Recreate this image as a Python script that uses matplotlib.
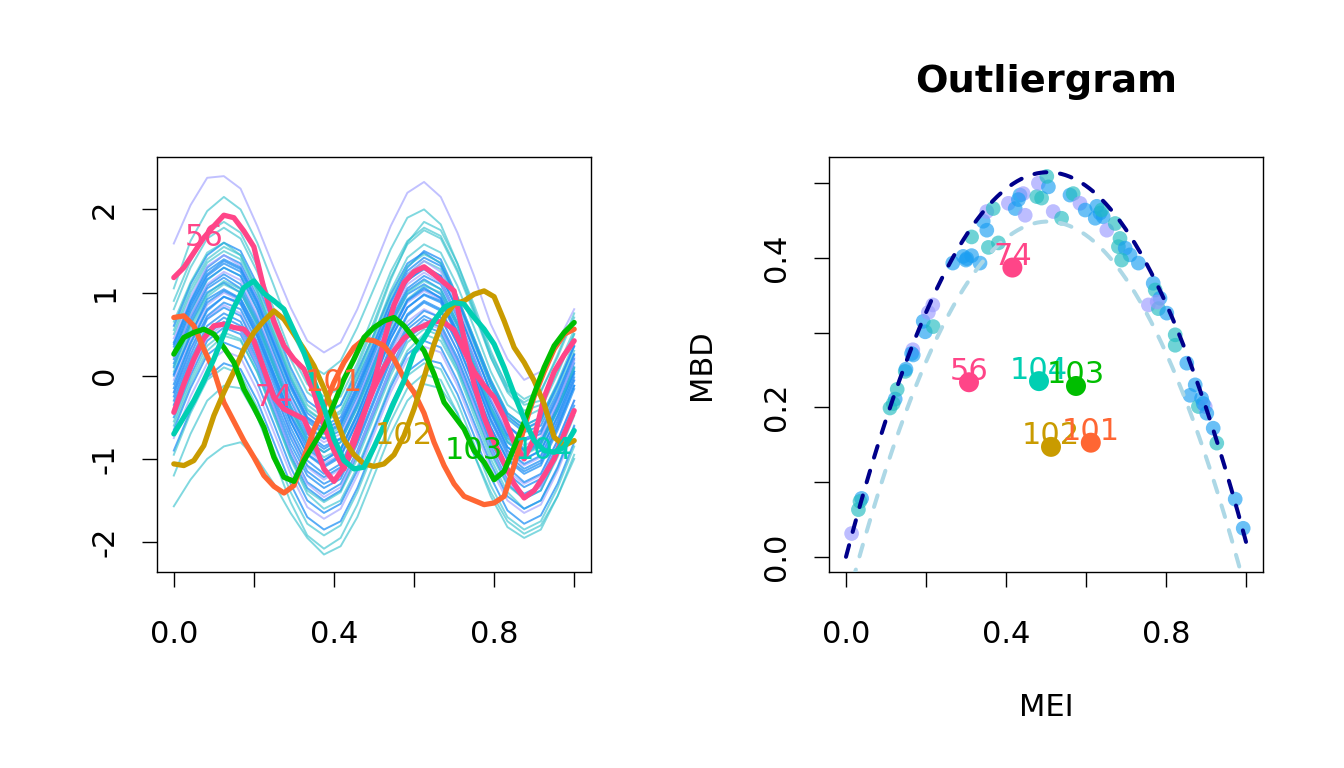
import numpy as np
import matplotlib
matplotlib.use("Agg")
import matplotlib.pyplot as plt

plt.rcParams['font.family'] = 'DejaVu Sans'
plt.rcParams['axes.unicode_minus'] = False

# ---------------- left panel: functional data ----------------
grid_bg = np.arange(25) / 24     # background curves, 25 samples
grid_out = np.arange(41) / 40    # outlying curves, 41 samples

bg_curves = [
    [1.59, 2.05, 2.38, 2.40, 2.25, 1.80, 1.30, 0.82, 0.42, 0.28, 0.40, 0.80, 1.30, 1.80, 2.20, 2.33, 2.15, 1.72, 1.20, 0.62, 0.20, -0.05, 0.05, 0.40, 0.80],
    [1.05, 1.62, 1.98, 2.15, 2.00, 1.60, 1.08, 0.55, 0.15, 0.02, 0.18, 0.58, 1.05, 1.52, 1.90, 2.00, 1.82, 1.35, 0.80, 0.22, -0.20, -0.42, -0.35, 0.05, 0.50],
    [-1.57, -1.25, -1.00, -0.85, -0.80, -1.00, -1.30, -1.65, -1.95, -2.15, -2.05, -1.70, -1.20, -0.70, -0.30, -0.10, -0.15, -0.45, -0.95, -1.40, -1.75, -1.90, -1.80, -1.45, -1.00],
    [0.55, 1.05, 1.40, 1.55, 1.45, 1.05, 0.55, 0.05, -0.35, -0.50, -0.35, 0.10, 0.60, 1.15, 1.60, 1.85, 1.75, 1.35, 0.85, 0.30, -0.15, -0.35, -0.30, 0.10, 0.55],
    [0.40, 0.90, 1.30, 1.45, 1.35, 0.95, 0.45, -0.05, -0.45, -0.60, -0.50, -0.05, 0.40, 0.90, 1.30, 1.50, 1.40, 0.95, 0.45, -0.05, -0.45, -0.60, -0.50, -0.10, 0.35],
    [0.10, 0.62, 1.00, 1.12, 1.00, 0.62, 0.10, -0.40, -0.78, -0.92, -0.80, -0.38, 0.10, 0.60, 0.98, 1.10, 0.98, 0.60, 0.08, -0.42, -0.80, -0.95, -0.82, -0.40, 0.05],
    [-0.20, 0.30, 0.70, 0.85, 0.75, 0.35, -0.15, -0.70, -1.10, -1.25, -1.12, -0.70, -0.20, 0.28, 0.65, 0.80, 0.70, 0.30, -0.22, -0.75, -1.15, -1.30, -1.20, -0.78, -0.30],
    [-0.60, -0.10, 0.30, 0.48, 0.42, 0.05, -0.48, -1.00, -1.42, -1.60, -1.50, -1.10, -0.62, -0.10, 0.30, 0.50, 0.42, 0.05, -0.48, -1.00, -1.40, -1.60, -1.50, -1.12, -0.62],
    [-0.90, -0.42, -0.02, 0.15, 0.08, -0.30, -0.80, -1.30, -1.70, -1.85, -1.75, -1.35, -0.85, -0.35, 0.05, 0.20, 0.15, -0.22, -0.72, -1.22, -1.62, -1.78, -1.68, -1.30, -0.80],
    [0.60, 1.10, 1.45, 1.60, 1.50, 1.10, 0.62, 0.10, -0.30, -0.45, -0.35, 0.05, 0.50, 0.98, 1.35, 1.48, 1.35, 0.92, 0.40, -0.12, -0.52, -0.68, -0.60, -0.20, 0.25],
    [0.25, 0.75, 1.15, 1.30, 1.20, 0.80, 0.30, -0.22, -0.60, -0.75, -0.62, -0.20, 0.30, 0.82, 1.22, 1.38, 1.28, 0.88, 0.38, -0.12, -0.50, -0.65, -0.55, -0.15, 0.30],
    [-0.05, 0.45, 0.85, 1.00, 0.90, 0.50, 0.00, -0.50, -0.90, -1.05, -0.95, -0.52, -0.02, 0.50, 0.88, 1.02, 0.92, 0.50, 0.00, -0.52, -0.92, -1.08, -0.98, -0.55, -0.05],
    [-0.40, 0.10, 0.50, 0.65, 0.55, 0.15, -0.35, -0.88, -1.28, -1.42, -1.30, -0.90, -0.40, 0.10, 0.50, 0.68, 0.58, 0.18, -0.32, -0.85, -1.25, -1.42, -1.32, -0.92, -0.45],
    [0.80, 1.30, 1.65, 1.78, 1.65, 1.25, 0.72, 0.20, -0.20, -0.35, -0.25, 0.15, 0.65, 1.18, 1.58, 1.75, 1.65, 1.25, 0.75, 0.22, -0.18, -0.32, -0.20, 0.25, 0.75],
    [-0.15, 0.38, 0.78, 0.95, 0.88, 0.48, -0.02, -0.55, -0.95, -1.10, -0.98, -0.55, -0.05, 0.45, 0.82, 0.98, 0.90, 0.50, -0.02, -0.55, -0.95, -1.12, -1.02, -0.60, -0.12],
    [0.20, 0.70, 1.08, 1.22, 1.10, 0.70, 0.20, -0.30, -0.70, -0.85, -0.75, -0.32, 0.18, 0.68, 1.05, 1.20, 1.10, 0.70, 0.20, -0.30, -0.70, -0.88, -0.78, -0.35, 0.15],
    [-1.20, -0.70, -0.30, -0.12, -0.15, -0.50, -1.00, -1.52, -1.92, -2.08, -1.95, -1.55, -1.05, -0.55, -0.15, 0.02, -0.05, -0.45, -0.95, -1.45, -1.82, -1.95, -1.85, -1.45, -0.95],
    [0.45, 0.95, 1.32, 1.45, 1.32, 0.92, 0.40, -0.10, -0.50, -0.65, -0.55, -0.12, 0.35, 0.85, 1.22, 1.38, 1.25, 0.85, 0.32, -0.20, -0.60, -0.78, -0.68, -0.25, 0.22],
    [-0.50, 0.00, 0.42, 0.58, 0.50, 0.10, -0.42, -0.95, -1.35, -1.50, -1.38, -0.95, -0.45, 0.05, 0.45, 0.60, 0.52, 0.12, -0.40, -0.90, -1.30, -1.48, -1.38, -0.95, -0.45],
    [0.05, 0.55, 0.95, 1.10, 1.00, 0.60, 0.10, -0.42, -0.82, -0.98, -0.88, -0.45, 0.05, 0.55, 0.92, 1.08, 1.00, 0.60, 0.10, -0.40, -0.80, -0.95, -0.85, -0.42, 0.08],
    [0.30, 0.82, 1.20, 1.35, 1.25, 0.85, 0.35, -0.15, -0.55, -0.70, -0.60, -0.18, 0.32, 0.80, 1.18, 1.32, 1.20, 0.80, 0.30, -0.20, -0.60, -0.78, -0.70, -0.28, 0.20],
    [-0.75, -0.25, 0.15, 0.30, 0.22, -0.18, -0.68, -1.18, -1.58, -1.72, -1.60, -1.20, -0.70, -0.20, 0.20, 0.35, 0.28, -0.12, -0.62, -1.12, -1.50, -1.65, -1.55, -1.15, -0.65],
    [0.65, 1.12, 1.48, 1.60, 1.45, 1.02, 0.50, -0.02, -0.42, -0.55, -0.42, 0.02, 0.50, 1.02, 1.42, 1.58, 1.48, 1.08, 0.58, 0.05, -0.35, -0.50, -0.40, 0.02, 0.50],
    [-0.30, 0.20, 0.60, 0.75, 0.65, 0.25, -0.25, -0.75, -1.15, -1.30, -1.20, -0.78, -0.28, 0.22, 0.60, 0.78, 0.70, 0.30, -0.20, -0.72, -1.10, -1.28, -1.18, -0.78, -0.30],
    [0.02, 0.48, 0.92, 1.04, 0.93, 0.56, 0.03, -0.47, -0.83, -1.02, -0.88, -0.46, 0.04, 0.50, 0.91, 1.06, 0.93, 0.52, 0.06, -0.44, -0.86, -1.01, -0.90, -0.50, -0.02],
    [-0.95, -0.45, -0.05, 0.10, 0.02, -0.38, -0.90, -1.40, -1.78, -1.92, -1.80, -1.40, -0.90, -0.40, 0.00, 0.15, 0.08, -0.32, -0.82, -1.32, -1.70, -1.85, -1.75, -1.35, -0.85],
    [0.35, 0.85, 1.22, 1.38, 1.28, 0.88, 0.38, -0.12, -0.52, -0.68, -0.58, -0.15, 0.32, 0.80, 1.15, 1.28, 1.15, 0.72, 0.22, -0.30, -0.72, -0.90, -0.82, -0.42, 0.05],
    [-0.25, 0.25, 0.68, 0.82, 0.72, 0.32, -0.18, -0.68, -1.08, -1.22, -1.10, -0.68, -0.18, 0.32, 0.72, 0.88, 0.78, 0.38, -0.12, -0.62, -1.00, -1.15, -1.05, -0.62, -0.12],
    [0.15, 0.66, 1.05, 1.18, 1.05, 0.66, 0.15, -0.36, -0.74, -0.88, -0.76, -0.35, 0.14, 0.64, 1.02, 1.16, 1.04, 0.64, 0.14, -0.36, -0.75, -0.90, -0.80, -0.38, 0.10],
    [-0.10, 0.40, 0.80, 0.95, 0.86, 0.46, -0.05, -0.55, -0.94, -1.08, -0.96, -0.55, -0.06, 0.44, 0.82, 0.97, 0.88, 0.48, -0.02, -0.52, -0.90, -1.06, -0.96, -0.55, -0.06],
    [0.50, 1.00, 1.36, 1.50, 1.40, 1.00, 0.50, 0.00, -0.40, -0.55, -0.45, -0.02, 0.46, 0.95, 1.32, 1.46, 1.36, 0.95, 0.45, -0.05, -0.45, -0.60, -0.50, -0.08, 0.40],
    [-0.35, 0.15, 0.55, 0.70, 0.60, 0.20, -0.30, -0.82, -1.20, -1.35, -1.24, -0.82, -0.32, 0.18, 0.56, 0.72, 0.62, 0.22, -0.28, -0.80, -1.18, -1.34, -1.24, -0.84, -0.36],
    [0.22, 0.72, 1.10, 1.25, 1.15, 0.74, 0.24, -0.27, -0.66, -0.80, -0.70, -0.28, 0.22, 0.72, 1.10, 1.24, 1.12, 0.72, 0.22, -0.28, -0.68, -0.84, -0.74, -0.32, 0.18],
    [0.00, 0.50, 0.88, 1.02, 0.92, 0.52, 0.02, -0.48, -0.88, -1.02, -0.90, -0.48, 0.02, 0.52, 0.90, 1.04, 0.94, 0.54, 0.04, -0.46, -0.86, -1.00, -0.90, -0.48, 0.02],
    [-0.55, -0.05, 0.36, 0.52, 0.44, 0.04, -0.46, -0.98, -1.38, -1.52, -1.40, -1.00, -0.50, 0.00, 0.40, 0.56, 0.48, 0.08, -0.42, -0.94, -1.32, -1.48, -1.38, -0.98, -0.48],
    [0.38, 0.88, 1.26, 1.40, 1.30, 0.90, 0.40, -0.10, -0.50, -0.64, -0.54, -0.12, 0.38, 0.88, 1.26, 1.42, 1.32, 0.92, 0.42, -0.08, -0.48, -0.64, -0.54, -0.12, 0.36],
    [-0.20, 0.32, 0.72, 0.88, 0.80, 0.40, -0.10, -0.62, -1.02, -1.18, -1.06, -0.64, -0.14, 0.36, 0.74, 0.90, 0.80, 0.40, -0.10, -0.62, -1.02, -1.18, -1.08, -0.66, -0.16],
    [0.12, 0.60, 0.98, 1.14, 1.04, 0.64, 0.14, -0.38, -0.78, -0.92, -0.80, -0.38, 0.12, 0.62, 1.00, 1.14, 1.04, 0.64, 0.14, -0.38, -0.78, -0.92, -0.82, -0.40, 0.10],
    [-0.45, 0.05, 0.46, 0.62, 0.54, 0.14, -0.38, -0.90, -1.30, -1.46, -1.34, -0.92, -0.42, 0.08, 0.48, 0.64, 0.56, 0.16, -0.36, -0.88, -1.28, -1.44, -1.34, -0.92, -0.42],
    [0.28, 0.78, 1.16, 1.30, 1.20, 0.80, 0.28, -0.22, -0.62, -0.76, -0.66, -0.24, 0.26, 0.76, 1.14, 1.30, 1.20, 0.80, 0.30, -0.20, -0.60, -0.76, -0.66, -0.24, 0.26],
    [0.90, 1.38, 1.72, 1.85, 1.72, 1.32, 0.80, 0.28, -0.10, -0.25, -0.15, 0.25, 0.75, 1.25, 1.62, 1.78, 1.68, 1.28, 0.78, 0.26, -0.12, -0.28, -0.18, 0.22, 0.70],
    [-0.65, -0.15, 0.25, 0.40, 0.32, -0.08, -0.58, -1.10, -1.50, -1.65, -1.54, -1.14, -0.64, -0.14, 0.26, 0.42, 0.34, -0.06, -0.56, -1.06, -1.45, -1.60, -1.50, -1.10, -0.60],
]
bg_groups = ['L', 'T', 'T', 'T', 'B', 'B', 'L', 'T', 'B', 'B', 'T', 'L', 'B', 'T',
             'B', 'B', 'T', 'L', 'B', 'T', 'B', 'L', 'T', 'B', 'B', 'T', 'B', 'B',
             'B', 'B', 'T', 'B', 'L', 'B', 'T', 'B', 'B', 'T', 'L', 'B', 'T', 'B']

curve_56 = [1.18, 1.30, 1.48, 1.66, 1.80, 1.93, 1.90, 1.74, 1.55, 1.05,
            0.65, 0.36, 0.20, 0.08, -0.20, -0.60, -0.90, -1.12, -0.82, -0.46,
            -0.10, 0.42, 0.85, 1.12, 1.25, 1.31, 1.22, 1.12, 1.02, 0.45,
            -0.10, -0.50, -0.80, -1.05, -1.30, -1.47, -1.38, -1.20, -1.00, -0.70,
            -0.42]
curve_74 = [-0.44, -0.10, 0.20, 0.45, 0.60, 0.62, 0.58, 0.56, 0.42, 0.08,
            -0.26, -0.40, -0.46, -0.52, -0.80, -1.12, -1.27, -1.10, -0.75, -0.45,
            -0.15, 0.10, 0.30, 0.45, 0.55, 0.60, 0.66, 0.64, 0.55, 0.30,
            0.05, -0.12, -0.26, -0.50, -0.80, -1.00, -0.75, -0.26, 0.05, 0.25,
            0.42]
curve_101 = [0.70, 0.72, 0.60, 0.32, 0.06, -0.32, -0.55, -0.78, -0.98, -1.20,
             -1.33, -1.41, -1.32, -0.98, -0.65, -0.38, -0.08, 0.16, 0.34, 0.44,
             0.42, 0.36, 0.20, -0.03, -0.20, -0.45, -0.80, -1.08, -1.30, -1.45,
             -1.50, -1.55, -1.53, -1.45, -1.08, -0.62, -0.25, 0.05, 0.32, 0.50,
             0.56]
curve_102 = [-1.06, -1.08, -1.02, -0.84, -0.48, -0.20, 0.05, 0.32, 0.52, 0.66,
             0.78, 0.68, 0.50, 0.32, 0.12, -0.15, -0.45, -0.77, -0.95, -1.06,
             -1.09, -1.06, -0.95, -0.72, -0.40, -0.02, 0.38, 0.70, 0.86, 0.90,
             0.98, 1.02, 0.95, 0.66, 0.34, 0.16, -0.06, -0.34, -0.74, -0.84,
             -0.78]
curve_103 = [0.26, 0.46, 0.52, 0.56, 0.50, 0.34, 0.16, -0.16, -0.38, -0.62,
             -0.98, -1.22, -1.27, -1.02, -0.82, -0.62, -0.34, -0.04, 0.20, 0.46,
             0.58, 0.66, 0.70, 0.60, 0.45, 0.30, 0.02, -0.32, -0.48, -0.64,
             -0.90, -1.04, -1.25, -1.15, -0.86, -0.56, -0.22, 0.10, 0.36, 0.52,
             0.64]
curve_104 = [-0.70, -0.50, -0.30, -0.06, 0.20, 0.50, 0.82, 1.06, 1.14, 0.99,
             0.90, 0.80, 0.54, 0.28, -0.06, -0.38, -0.76, -1.02, -1.12, -1.10,
             -0.86, -0.60, -0.32, -0.06, 0.28, 0.45, 0.66, 0.82, 0.88, 0.86,
             0.70, 0.56, 0.38, 0.10, -0.22, -0.52, -0.78, -0.90, -0.92, -0.86,
             -0.66]

outlier_ids = ['56', '74', '101', '102', '103', '104']
outlier_curves = [curve_56, curve_74, curve_101, curve_102, curve_103, curve_104]
outlier_colors = ['#FF4588', '#FF4588', '#FF6633', '#C99B00', '#00BE00', '#00CFB2']
label_index = [3, 10, 16, 23, 30, 37]   # sample where each id is written

# ---------------- right panel: outliergram ----------------
mei = [0.014, 0.031, 0.039, 0.110, 0.123, 0.128, 0.148, 0.150, 0.168, 0.167,
       0.198, 0.193, 0.218, 0.206, 0.217, 0.267, 0.293, 0.302, 0.314, 0.335,
       0.314, 0.352, 0.343, 0.352, 0.368, 0.356, 0.381, 0.406, 0.423, 0.435,
       0.443, 0.448, 0.477, 0.489, 0.481, 0.506, 0.502, 0.518, 0.539, 0.560,
       0.568, 0.585, 0.598, 0.627, 0.635, 0.623, 0.643, 0.652, 0.673, 0.685,
       0.681, 0.698, 0.710, 0.689, 0.731, 0.768, 0.773, 0.785, 0.756, 0.781,
       0.802, 0.823, 0.823, 0.852, 0.860, 0.873, 0.881, 0.889, 0.898, 0.902,
       0.918, 0.927, 0.973, 0.993, 0.300, 0.431, 0.639, 0.778, 0.893, 0.035,
       0.118, 0.164]
mbd = [0.031, 0.063, 0.078, 0.199, 0.211, 0.224, 0.248, 0.251, 0.270, 0.277,
       0.301, 0.315, 0.308, 0.327, 0.337, 0.393, 0.402, 0.399, 0.403, 0.393,
       0.428, 0.437, 0.449, 0.462, 0.466, 0.414, 0.420, 0.473, 0.466, 0.484,
       0.486, 0.457, 0.482, 0.480, 0.500, 0.495, 0.509, 0.462, 0.453, 0.484,
       0.486, 0.473, 0.464, 0.469, 0.460, 0.453, 0.455, 0.437, 0.446, 0.426,
       0.415, 0.413, 0.404, 0.397, 0.393, 0.366, 0.357, 0.346, 0.337, 0.332,
       0.326, 0.297, 0.283, 0.259, 0.216, 0.230, 0.201, 0.212, 0.201, 0.192,
       0.172, 0.152, 0.077, 0.038, 0.397, 0.478, 0.464, 0.341, 0.205, 0.074,
       0.205, 0.272]
point_groups = ['L', 'T', 'B', 'T', 'B', 'T', 'T', 'B', 'B', 'L',
                'B', 'B', 'T', 'L', 'L', 'B', 'B', 'B', 'B', 'B',
                'T', 'B', 'B', 'L', 'T', 'T', 'T', 'L', 'B', 'B',
                'L', 'L', 'T', 'T', 'L', 'B', 'T', 'L', 'T', 'B',
                'T', 'L', 'B', 'B', 'B', 'B', 'B', 'L', 'T', 'T',
                'T', 'B', 'B', 'T', 'B', 'B', 'T', 'B', 'L', 'T',
                'B', 'T', 'T', 'B', 'B', 'B', 'T', 'B', 'L', 'B',
                'B', 'T', 'B', 'B', 'B', 'B', 'T', 'L', 'B', 'T',
                'T', 'B']

out_mei = [0.3075, 0.416, 0.612, 0.5125, 0.575, 0.4825]
out_mbd = [0.2335, 0.387, 0.1526, 0.147, 0.2285, 0.235]

# parabola MBD = a2*MEI^2 + a1*MEI + a0 and the shift of its lower copy
parab_coef = [-2.019, 2.039, -0.000187]
lower_shift = 0.066

line_colors = {'L': '#A0A0FF', 'T': '#2BBFCB', 'B': '#2090F5'}
line_alpha = {'L': 0.65, 'T': 0.6, 'B': 0.75}
dot_colors = {'L': '#9A9AFF', 'T': '#22BCC0', 'B': '#1A9EF2'}

# ---------------- figure ----------------
fig = plt.figure(figsize=(13.44, 7.68), dpi=100)
ax1 = fig.add_axes([157 / 1344, 196 / 768, 434 / 1344, 415 / 768])
ax2 = fig.add_axes([829 / 1344, 196 / 768, 434 / 1344, 415 / 768])

for vals, g in zip(bg_curves, bg_groups):
    ax1.plot(grid_bg, vals, color=line_colors[g], lw=1.4, alpha=line_alpha[g])
for vals, c in zip(outlier_curves, outlier_colors):
    ax1.plot(grid_out, vals, color=c, lw=3.8, solid_capstyle='round')
for oid, vals, c, k in zip(outlier_ids, outlier_curves, outlier_colors, label_index):
    ax1.text(grid_out[k], vals[k], oid, color=c, fontsize=22, ha='center', va='center')

ax1.set_xlim(-0.042, 1.042)
ax1.set_ylim(-2.36, 2.63)
ax1.set_xticks([0, 0.2, 0.4, 0.6, 0.8, 1.0])
ax1.set_xticklabels(['0.0', '', '0.4', '', '0.8', ''])
ax1.set_yticks([-2, -1, 0, 1, 2])
ax1.set_yticklabels(['-2', '-1', '0', '1', '2'], rotation=90, va='center')

# outliergram
pt_colors = [dot_colors[g] for g in point_groups]
ax2.scatter(mei, mbd, s=112, c=pt_colors, alpha=0.65, edgecolors='none', zorder=2)
xs = np.linspace(0, 1, 300)
upper = np.polyval(parab_coef, xs)
ax2.plot(xs, upper, color='#00008B', lw=2.9, dashes=(3.0, 3.4),
         dash_capstyle='round', zorder=3)
ax2.plot(xs, upper - lower_shift, color='#ADD8E6', lw=2.9, dashes=(3.0, 3.4),
         dash_capstyle='round', zorder=3)
for i in [5, 4, 3, 2, 1, 0]:
    ax2.annotate(outlier_ids[i], (out_mei[i], out_mbd[i]), xytext=(0, 8),
                 textcoords='offset points', ha='center', va='center',
                 fontsize=22, color=outlier_colors[i], zorder=4)
ax2.scatter(out_mei, out_mbd, s=207, c=outlier_colors, edgecolors='none', zorder=5)

ax2.set_xlim(-0.0425, 1.0425)
ax2.set_ylim(-0.0205, 0.535)
ax2.set_xticks([0, 0.2, 0.4, 0.6, 0.8, 1.0])
ax2.set_xticklabels(['0.0', '', '0.4', '', '0.8', ''])
ax2.set_yticks([0, 0.1, 0.2, 0.3, 0.4, 0.5])
ax2.set_yticklabels(['0.0', '', '0.2', '', '0.4', ''], rotation=90, va='center')
ax2.set_title('Outliergram', fontsize=27.6, fontweight='bold', pad=47)
ax2.set_xlabel('MEI', fontsize=22, labelpad=32)
ax2.set_ylabel('MBD', fontsize=22, labelpad=33)

for ax in (ax1, ax2):
    for sp in ax.spines.values():
        sp.set_linewidth(1.0)
    ax.tick_params(axis='x', length=10.8, width=1.0, labelsize=22, pad=23.8)
    ax.tick_params(axis='y', length=10.8, width=1.0, labelsize=22, pad=16.4)

fig.savefig('out.png', dpi=100)
